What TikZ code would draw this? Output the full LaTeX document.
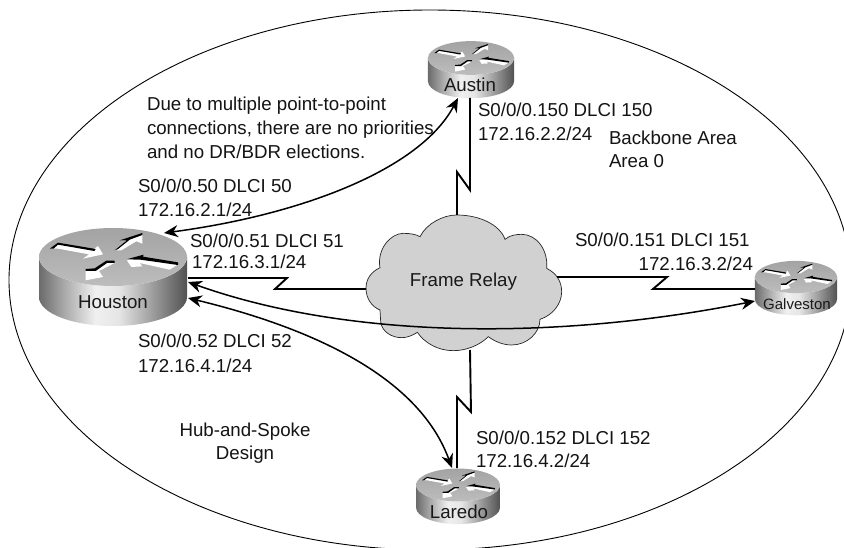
\documentclass[tikz,border=0pt]{standalone}
\usepackage{fontspec}
\setmainfont{Liberation Sans}
\usetikzlibrary{arrows.meta}
\pgfdeclarehorizontalshading{routerside}{100bp}{
  color(0bp)=(black!58); color(25bp)=(black!58); color(33bp)=(black!35);
  color(44bp)=(black!6); color(52bp)=(black!10); color(64bp)=(black!40);
  color(75bp)=(black!68); color(100bp)=(black!68)}
\pgfdeclareverticalshading{routertop}{100bp}{
  color(0bp)=(black!26); color(25bp)=(black!26); color(75bp)=(black!36); color(100bp)=(black!36)}
\tikzset{
  every node/.style={inner sep=0pt,outer sep=0pt},
  lbl/.style={anchor=base west,font=\fontsize{18.7}{22}\selectfont,text=black!92},
  rname/.style={font=\fontsize{18.7}{22}\selectfont,text=black!90},
  wan/.style={line width=1.9pt,black,line join=miter},
  link/.style={line width=1.5pt,black,{Stealth[length=14pt,width=12pt]}-{Stealth[length=14pt,width=12pt]}},
  area/.style={line width=0.9pt,black},
  cloudshape/.style={draw=black!85,line width=0.7pt,fill=black!18}
}
\newcommand{\routericon}[3]{%
  \begin{scope}[shift={(#1,#2)},scale=#3]
    \path[shading=routerside] (-222,0) -- (-222,120) arc[start angle=180,end angle=360,x radius=222,y radius=-87] -- (222,0) arc[start angle=0,end angle=-180,x radius=222,y radius=-87] -- cycle;
    \path[shading=routertop] (0,0) ellipse[x radius=222,y radius=87];
    \fill[white] (-190,-25) -- (-168,-38) -- (-60,-22) -- (-45,-33) -- (-30,-8) -- (-90,5) -- (-72,-8) -- (-165,-25) -- cycle;
    \fill[black] (-190,-25) -- (-165,-43) -- (-52,-24) -- (-56,-18) -- (-165,-37) -- (-178,-25) -- cycle;
    \fill[white] (88,-68) -- (88,-40) -- (70,-47) -- (25,-20) -- (10,-20) -- (48,-50) -- (22,-50) -- cycle;
    \fill[black] (5,-20) -- (42,-50) -- (20,-50) -- (88,-72) -- (88,-66) -- (50,-52) -- (15,-24) -- cycle;
    \fill[white] (40,7) -- (92,-5) -- (85,5) -- (195,22) -- (170,38) -- (80,18) -- (88,28) -- (55,30) -- cycle;
    \fill[black] (40,7) -- (92,-7) -- (90,-1) -- (195,16) -- (195,24) -- (82,8) -- cycle;
    \fill[white] (-82,40) -- (-82,70) -- (-30,60) -- (-42,42) -- (5,18) -- (-20,15) -- (-55,38) -- cycle;
    \fill[black] (-82,36) -- (-55,34) -- (-20,11) -- (5,11) -- (5,18) -- (-18,18) -- (-52,42) -- (-82,42) -- cycle;
  \end{scope}}
\begin{document}
\begin{tikzpicture}[x=1pt,y=-1pt]
\useasboundingbox (0,0) rectangle (844,548);
\begin{scope}
\clip (0,0) rectangle (844,548);
\fill[white] (0,0) rectangle (844,548);
\draw[area] (430,280) ellipse[x radius=421,y radius=270];
\end{scope}

% cloud
\begin{scope}[shift={(340,200)},scale=1/3]
\draw[cloudshape] (240,110) .. controls (260,70) and (310,45) .. (350,45) .. controls (420,45) and (480,75) .. (495,118)
 .. controls (510,105) and (530,103) .. (545,103) .. controls (590,103) and (625,150) .. (620,205)
 .. controls (650,220) and (665,245) .. (665,275) .. controls (665,310) and (640,345) .. (600,358)
 .. controls (600,400) and (560,435) .. (515,435) .. controls (490,435) and (465,425) .. (445,410)
 .. controls (420,435) and (380,452) .. (340,452) .. controls (295,452) and (255,430) .. (232,397)
 .. controls (215,408) and (200,413) .. (185,413) .. controls (155,413) and (125,395) .. (122,365)
 -- (120,330) .. controls (95,320) and (78,295) .. (78,265) .. controls (78,235) and (95,215) .. (120,203)
 .. controls (110,150) and (150,100) .. (190,100) .. controls (210,100) and (228,103) .. (240,110) -- cycle;
\end{scope}
\node[rname] (frame) at (463.5,282) {Frame Relay};

% routers
\routericon{113}{257}{1/3}
\routericon{471}{58}{0.194}
\routericon{796}{277}{0.185}
\routericon{458}{485}{0.189}
\node[rname] (houston) at (113,302) {Houston};
\node[rname] (austin) at (470,85) {Austin};
\node[font=\fontsize{15}{18}\selectfont,text=black!90] (galveston) at (797,304) {Galveston};
\node[rname] (laredo) at (459,512) {Laredo};

% connector ends
\coordinate (hN) at (164,233);
\coordinate (hE1) at (188,278);
\coordinate (hE2) at (188,282);
\coordinate (hE3) at (188,298);
\coordinate (aS1) at (458,98);
\coordinate (aS2) at (470,98);
\coordinate (gW1) at (755,289);
\coordinate (gW2) at (755,301);
\coordinate (lN1) at (452,468);
\coordinate (lN2) at (457,468);
\coordinate (cN) at (457,215);
\coordinate (cW) at (366,289);
\coordinate (cE) at (557,277);
\coordinate (cS) at (470,350);

% lightning links
\draw[wan] (aS2) -- (470,190) -- (457,172) -- (cN);
\draw[wan] (hE1) -- (287,278) -- (275,289) -- (cW);
\draw[wan] (cE) -- (667,277) -- (653,289) -- (gW1);
\draw[wan] (cS) -- (471,412) -- (457,397) -- (lN2);

% curved links
\draw[link] (hN) .. controls (300,215) and (420,170) .. (aS1);
\draw[link] (hE2) .. controls (350,340) and (560,340) .. (gW2);
\draw[link] (hE3) .. controls (320,330) and (420,380) .. (lN1);

% labels
\node[lbl] (t1) at (147,111) {Due to multiple point-to-point};
\node[lbl] (t2) at (147,135) {connections, there are no priorities};
\node[lbl] (t3) at (147,159) {and no DR/BDR elections.};
\node[lbl] (h1a) at (138,193) {S0/0/0.50 DLCI 50};
\node[lbl] (h1b) at (138,217) {172.16.2.1/24};
\node[lbl] (h2a) at (190,248) {S0/0/0.51 DLCI 51};
\node[lbl] (h2b) at (192,269) {172.16.3.1/24};
\node[lbl] (h3a) at (138,348) {S0/0/0.52 DLCI 52};
\node[lbl] (h3b) at (138,372) {172.16.4.1/24};
\node[lbl,anchor=base] (hub1) at (245,436) {Hub-and-Spoke};
\node[lbl,anchor=base] (hub2) at (245,459) {Design};
\node[lbl] (bb1) at (609,145) {Backbone Area};
\node[lbl] (bb2) at (609,168) {Area 0};
\node[lbl] (a1) at (478,117) {S0/0/0.150 DLCI 150};
\node[lbl] (a2) at (478,141) {172.16.2.2/24};
\node[lbl] (g1) at (575,247) {S0/0/0.151 DLCI 151};
\node[lbl,anchor=base east] (g2) at (753,271) {172.16.3.2/24};
\node[lbl] (l1) at (476,444) {S0/0/0.152 DLCI 152};
\node[lbl] (l2) at (476,467) {172.16.4.2/24};
\end{tikzpicture}
\end{document}
